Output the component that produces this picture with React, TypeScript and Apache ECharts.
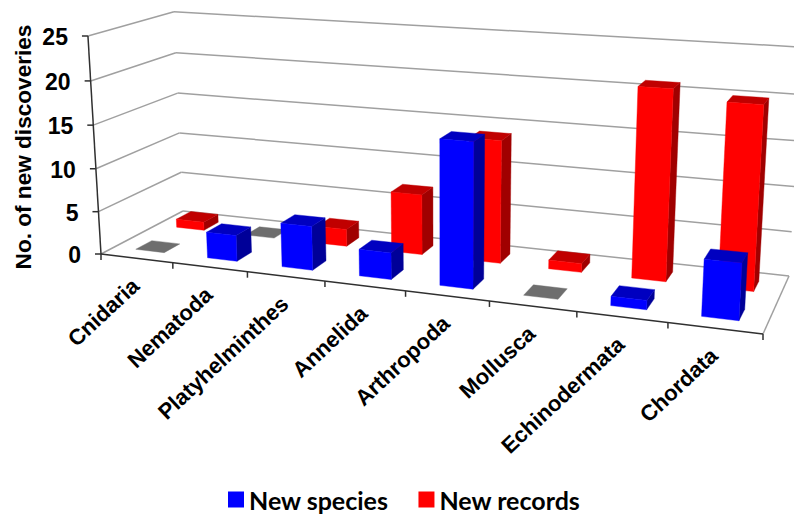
import React, { useEffect, useRef } from "react";
import * as echarts from "echarts";

const categories = ["Cnidaria", "Nematoda", "Platyhelminthes", "Annelida", "Arthropoda", "Mollusca", "Echinodermata", "Chordata"];
const newSpecies = [0, 3, 5, 3, 16, 0, 1, 6];
const newRecords = [1, 0, 2, 7, 14, 1, 21, 20];
const yTicks = [0, 5, 10, 15, 20, 25];
const xTickEdges = [0, 1, 2, 3, 4, 5, 6, 7, 8];

const FONT = '"Liberation Sans", Arial, sans-serif';

// Perspective of the chart box: floor corners and vertical vanishing point (pixels).
const A = [101, 254]; // front-left
const B = [763, 334]; // front-right
const D = [789, 276]; // back-right
const C = [183, 211]; // back-left
const VP = [445, 6000];
const TOP_Y_FRONT_LEFT = 36;

const dx1 = B[0] - D[0], dx2 = C[0] - D[0], sx = A[0] - B[0] + D[0] - C[0];
const dy1 = B[1] - D[1], dy2 = C[1] - D[1], sy = A[1] - B[1] + D[1] - C[1];
const det = dx1 * dy2 - dx2 * dy1;
const g = (sx * dy2 - dx2 * sy) / det;
const h = (dx1 * sy - sx * dy1) / det;
const a1 = B[0] * (1 + g) - A[0], a2 = C[0] * (1 + h) - A[0];
const b1 = B[1] * (1 + g) - A[1], b2 = C[1] * (1 + h) - A[1];
const T = -(A[1] - TOP_Y_FRONT_LEFT) / (VP[1] - TOP_Y_FRONT_LEFT);

// u: along categories, v: depth, w: height (all 0..1)
function project(u: number, v: number, w: number): number[] {
  const t = T * w;
  const X = a1 * u + a2 * v + A[0];
  const Y = b1 * u + b2 * v + A[1];
  const W = g * u + h * v + 1;
  return [(X + t * VP[0]) / (W + t), (Y + t * VP[1]) / (W + t)];
}

const toU = (cs: any, px: number) => (px - cs.x) / cs.width;
const toW = (cs: any, py: number) => (cs.y + cs.height - py) / cs.height;

const GRID_COLOR = "#a0a0a0";
const AXIS_COLOR = "#303030";

function barSeries(name: string, values: number[], front: number, back: number, colors: string[], z: number) {
  return {
    type: "custom",
    name,
    z,
    silent: true,
    itemStyle: { color: colors[0] },
    encode: { x: 0, y: 1 },
    data: values.map((v, i) => [i, v]),
    renderItem: (params: any, api: any) => {
      const cs = params.coordSys;
      const p = api.coord([api.value(0), api.value(1)]);
      const band = api.size([1, 0])[0] / cs.width;
      const uc = toU(cs, p[0]);
      const w = toW(cs, p[1]);
      const u0 = uc - 0.2 * band, u1 = uc + 0.2 * band;
      const poly = (pts: number[][], fill: string) => ({
        type: "polygon",
        shape: { points: pts },
        style: { fill, stroke: fill, lineWidth: 0.4 },
      });
      if (api.value(1) === 0) {
        return poly(
          [project(u0, front, 0), project(u1, front, 0), project(u1, back, 0), project(u0, back, 0)],
          "#6e6e6e"
        );
      }
      return {
        type: "group",
        children: [
          poly([project(u1, front, 0), project(u1, back, 0), project(u1, back, w), project(u1, front, w)], colors[2]),
          poly([project(u0, front, w), project(u1, front, w), project(u1, back, w), project(u0, back, w)], colors[1]),
          poly([project(u0, front, 0), project(u1, front, 0), project(u1, front, w), project(u0, front, w)], colors[0]),
        ],
      };
    },
  };
}

const line = (p: number[], q: number[], stroke: string, lineWidth: number) => ({
  type: "line",
  shape: { x1: p[0], y1: p[1], x2: q[0], y2: q[1] },
  style: { stroke, lineWidth },
});

export default function App() {
  const ref = useRef<HTMLDivElement>(null);
  useEffect(() => {
    const chart = echarts.init(ref.current!, undefined, { renderer: "svg" });
    chart.setOption({
      animation: false,
      backgroundColor: "#ffffff",
      grid: { left: 0, top: 0, width: 794, height: 514, show: false },
      xAxis: { type: "category", data: categories, show: false },
      yAxis: { type: "value", min: 0, max: 25, interval: 5, show: false },
      legend: {
        data: ["New species", "New records"],
        left: 223,
        top: 482,
        icon: "rect",
        itemWidth: 16,
        itemHeight: 16,
        itemGap: 30,
        selectedMode: false,
        textStyle: { fontFamily: "Lato", fontWeight: "bold", fontSize: 25, color: "#000000", lineHeight: 25 },
      },
      graphic: [
        {
          type: "text",
          x: 23,
          y: 147,
          rotation: Math.PI / 2,
          style: {
            text: "No. of new discoveries",
            font: `bold 22.6px ${FONT}`,
            fill: "#000000",
            align: "center",
            verticalAlign: "middle",
          },
        },
      ],
      series: [
        {
          type: "custom",
          name: "gridlines",
          z: 1,
          silent: true,
          encode: { x: 0, y: 1 },
          data: yTicks.map((v) => [0, v]),
          renderItem: (params: any, api: any) => {
            const cs = params.coordSys;
            const p = api.coord([0, api.value(1)]);
            const w = toW(cs, p[1]);
            const f = project(0, 0, w);
            const kids: any[] = [
              line(f, project(0, 1, w), GRID_COLOR, 1.5),
              line(project(0, 1, w), project(1, 1, w), GRID_COLOR, 1.5),
              line([f[0] - 6, f[1]], f, AXIS_COLOR, 1.5),
              {
                type: "text",
                x: f[0] - 20,
                y: f[1] + 1,
                style: {
                  text: String(api.value(1)),
                  font: `bold 23px ${FONT}`,
                  fill: "#000000",
                  align: "right",
                  verticalAlign: "middle",
                },
              },
            ];
            return { type: "group", children: kids };
          },
        },
        {
          type: "custom",
          name: "box",
          z: 2,
          silent: true,
          data: [[0]],
          encode: { x: 0 },
          renderItem: () => ({
            type: "group",
            children: [
              line(project(1, 0, 0), project(1, 1, 0), GRID_COLOR, 1.5),
              line(project(0, 0, 0), project(1, 0, 0), AXIS_COLOR, 1.5),
              line(project(0, 0, 0), project(0, 0, 1), AXIS_COLOR, 1.5),
            ],
          }),
        },
        {
          type: "custom",
          name: "xticks",
          z: 2,
          silent: true,
          encode: { x: 0 },
          data: xTickEdges.map((v) => [v]),
          renderItem: (params: any, api: any) => {
            const p = project(api.value(0) / categories.length, 0, 0);
            return line(p, [p[0], p[1] + 6], AXIS_COLOR, 1.5);
          },
        },
        {
          type: "custom",
          name: "categoryLabels",
          z: 2,
          silent: true,
          encode: { x: 0 },
          data: categories.map((_, i) => [i]),
          renderItem: (params: any, api: any) => {
            const cs = params.coordSys;
            const i = api.value(0);
            const p = api.coord([i, 0]);
            const q = project(toU(cs, p[0]), 0, 0);
            return {
              type: "text",
              x: q[0] - 1,
              y: q[1] + 24,
              rotation: (43 * Math.PI) / 180,
              style: {
                text: categories[i],
                font: `bold 22px ${FONT}`,
                fill: "#000000",
                align: "right",
                verticalAlign: "middle",
              },
            };
          },
        },
        barSeries("New records", newRecords, 0.655, 0.845, ["#ff0000", "#c00000", "#a00000"], 3),
        barSeries("New species", newSpecies, 0.155, 0.345, ["#0000ff", "#0000c0", "#000098"], 4),
      ],
    });
    return () => chart.dispose();
  }, []);
  return <div ref={ref} style={{ position: "absolute", left: 0, top: 0, width: 794, height: 514 }} />;
}
